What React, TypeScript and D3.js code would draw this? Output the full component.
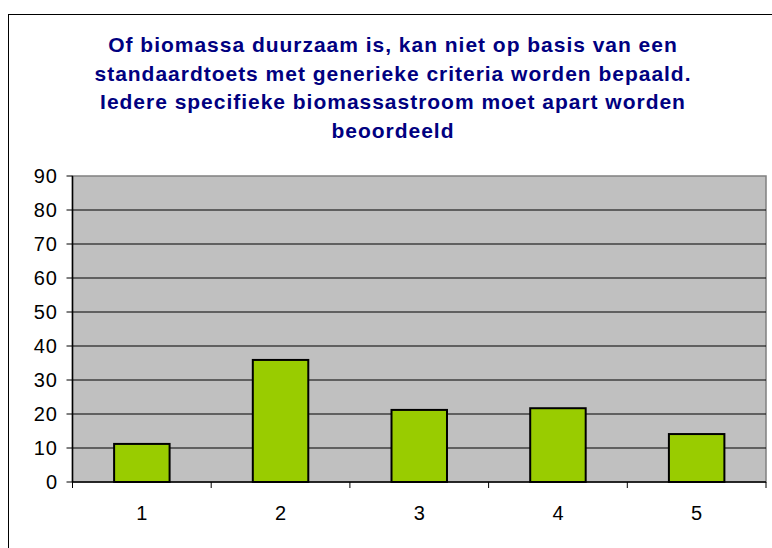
import React from "react";
import { scaleBand, scaleLinear, range } from "d3";

const categories = ["1", "2", "3", "4", "5"];
const values = [11.2, 35.9, 21.2, 21.7, 14.1];
const yTicks = [0, 10, 20, 30, 40, 50, 60, 70, 80, 90];
const titleLines = [
  "Of biomassa duurzaam is, kan niet op basis van een",
  "standaardtoets met generieke criteria worden bepaald.",
  "Iedere specifieke biomassastroom moet apart worden",
  "beoordeeld",
];

const App = () => {
  const width = 772;
  const height = 548;
  const plot = { left: 72.5, right: 766, top: 176, bottom: 482 };

  const x = scaleBand<string>()
    .domain(categories)
    .range([plot.left, plot.right])
    .paddingInner(0.6)
    .paddingOuter(0.3);
  const band = (plot.right - plot.left) / categories.length;
  const y = scaleLinear().domain([0, 90]).range([plot.bottom, plot.top]);

  return (
    <svg
      width={width}
      height={height}
      style={{ position: "absolute", left: 0, top: 0 }}
      fontFamily="'Liberation Sans', Arial, sans-serif"
    >
      <rect x={0} y={0} width={width} height={height} fill="white" />
      {/* outer chart border, cut off at right and bottom */}
      <rect x={8.5} y={14.5} width={800} height={600} fill="none" stroke="#000" strokeWidth={1} />

      {titleLines.map((t, i) => (
        <text
          key={i}
          x={393}
          y={52 + i * 28.5}
          textAnchor="middle"
          fontWeight="bold"
          fontSize={21}
          letterSpacing={0.98}
          fill="#000080"
        >
          {t}
        </text>
      ))}

      <rect
        x={plot.left}
        y={plot.top}
        width={plot.right - plot.left}
        height={plot.bottom - plot.top}
        fill="#C0C0C0"
        stroke="#808080"
        strokeWidth={1.5}
      />

      {yTicks.slice(1, -1).map((t) => (
        <line key={t} x1={plot.left} x2={plot.right} y1={y(t)} y2={y(t)} stroke="#000" strokeWidth={1} />
      ))}

      {categories.map((c, i) => (
        <rect
          key={c}
          x={x(c)}
          y={y(values[i])}
          width={x.bandwidth()}
          height={y(0) - y(values[i])}
          fill="#99CC00"
          stroke="#000"
          strokeWidth={2}
        />
      ))}

      {/* y axis */}
      <line x1={plot.left} x2={plot.left} y1={plot.top} y2={plot.bottom} stroke="#000" strokeWidth={1.5} />
      {yTicks.map((t) => (
        <g key={t}>
          <line x1={plot.left - 6} x2={plot.left} y1={y(t)} y2={y(t)} stroke="#000" />
          <text x={58} y={y(t) + 7} textAnchor="end" fontSize={20} letterSpacing={1} fill="#000">
            {t}
          </text>
        </g>
      ))}

      {/* x axis */}
      <line x1={plot.left} x2={plot.right} y1={plot.bottom} y2={plot.bottom} stroke="#000" strokeWidth={1.5} />
      {range(categories.length + 1).map((i) => (
        <line
          key={i}
          x1={plot.left + i * band}
          x2={plot.left + i * band}
          y1={plot.bottom}
          y2={plot.bottom + 6}
          stroke="#000"
        />
      ))}
      {categories.map((c) => (
        <text key={c} x={(x(c) ?? 0) + x.bandwidth() / 2} y={520} textAnchor="middle" fontSize={20} fill="#000">
          {c}
        </text>
      ))}
    </svg>
  );
};

export default App;
